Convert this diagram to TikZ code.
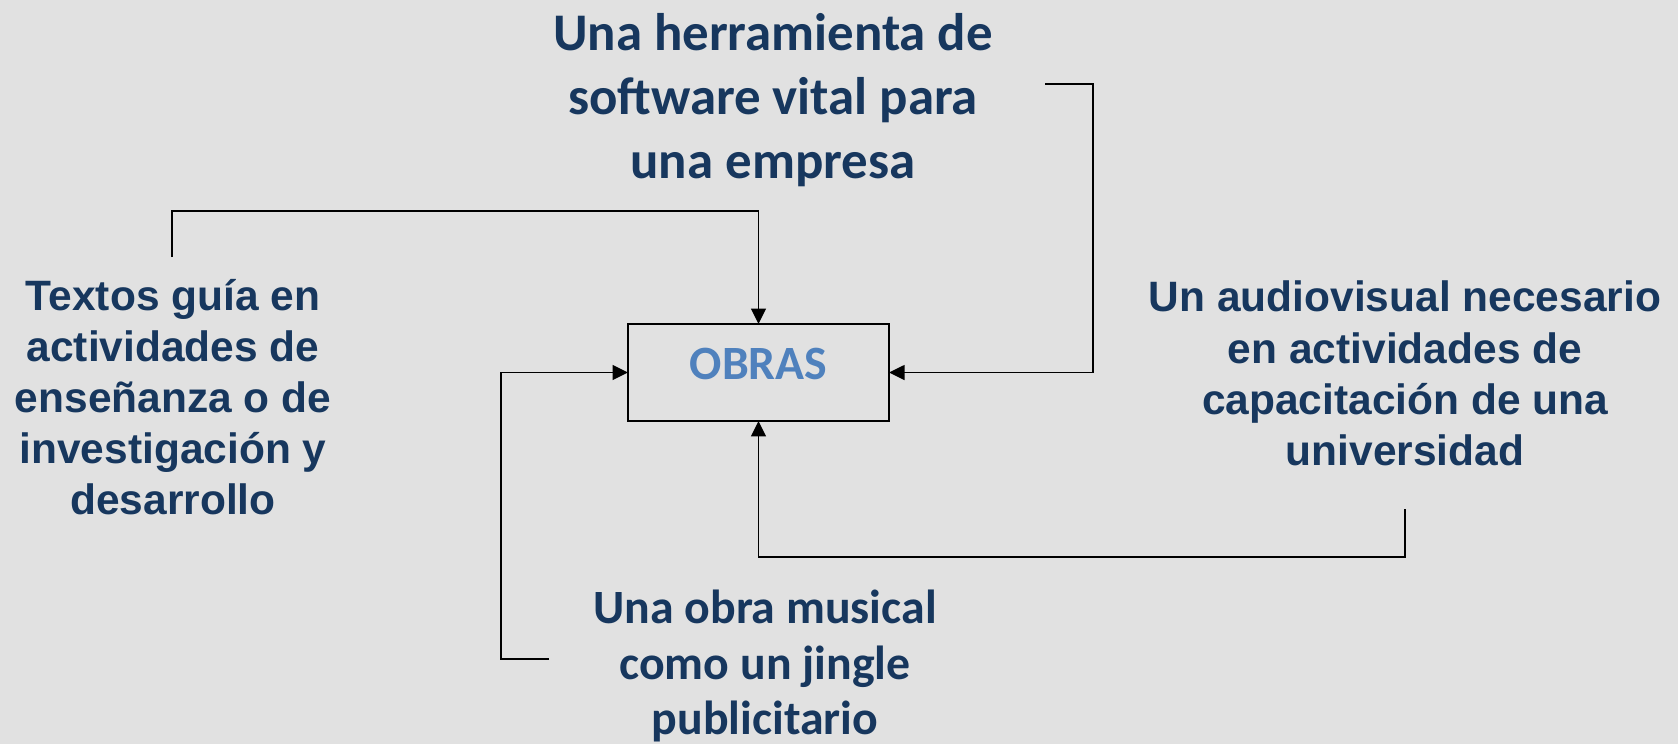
\documentclass[tikz,border=0pt]{standalone}
\usepackage{fontspec}
\setmainfont{Liberation Sans}
\newfontfamily\calibri{Carlito}
\usetikzlibrary{arrows.meta}
\definecolor{navy}{HTML}{17375E}
\definecolor{obrasblue}{HTML}{4F81BD}
\definecolor{bggray}{HTML}{E1E1E1}

\begin{document}
\begin{tikzpicture}[x=0.025cm, y=-0.025cm,
    link/.style={line width=1.3pt, -{Triangle[length=11pt,width=10.5pt]}},
    sidetext/.style={align=center, text=navy, inner sep=0pt,
      font=\bfseries\fontsize{30.2}{36.4}\selectfont},
    cbtext/.style={align=center, text=navy, inner sep=0pt}]
  \fill[bggray] (0,0) rectangle (1678,744);
  \useasboundingbox (0,0) rectangle (1678,744);
  \node[draw, line width=1.3pt, minimum width=6.525cm, minimum height=2.425cm,
        outer sep=0pt, text=obrasblue, text depth=0.45cm,
        font=\calibri\bfseries\fontsize{34}{40}\selectfont] (obras) at (758.5,372.5) {OBRAS};
  \node[cbtext, font=\calibri\bfseries\fontsize{37.6}{45.5}\selectfont] (tool) at (773,100)
       {Una herramienta de\\software vital para\\una empresa};
  \node[sidetext] (texts) at (173,397)
       {Textos guía en\\actividades de\\enseñanza o de\\investigación y\\desarrollo};
  \node[sidetext] (audio) at (1405,373.5)
       {Un audiovisual necesario\\en actividades de\\capacitación de una\\universidad};
  \node[cbtext, font=\calibri\bfseries\fontsize{34}{39.8}\selectfont] (music) at (765,666)
       {Una obra musical\\como un jingle\\publicitario};
  % free ends of the connectors
  \coordinate (texts-in) at (172,257);
  \coordinate (tool-in) at (1045,84);
  \coordinate (music-in) at (549,659);
  \coordinate (audio-in) at (1405,509);
  \draw[link] (texts-in) -- (172,211) -| (obras.north);
  \draw[link] (tool-in) -| (1093,372.5) -- (obras.east);
  \draw[link] (music-in) -| (501,372.5) -- (obras.west);
  \draw[link] (audio-in) -- (1405,557) -| (obras.south);
\end{tikzpicture}
\end{document}
